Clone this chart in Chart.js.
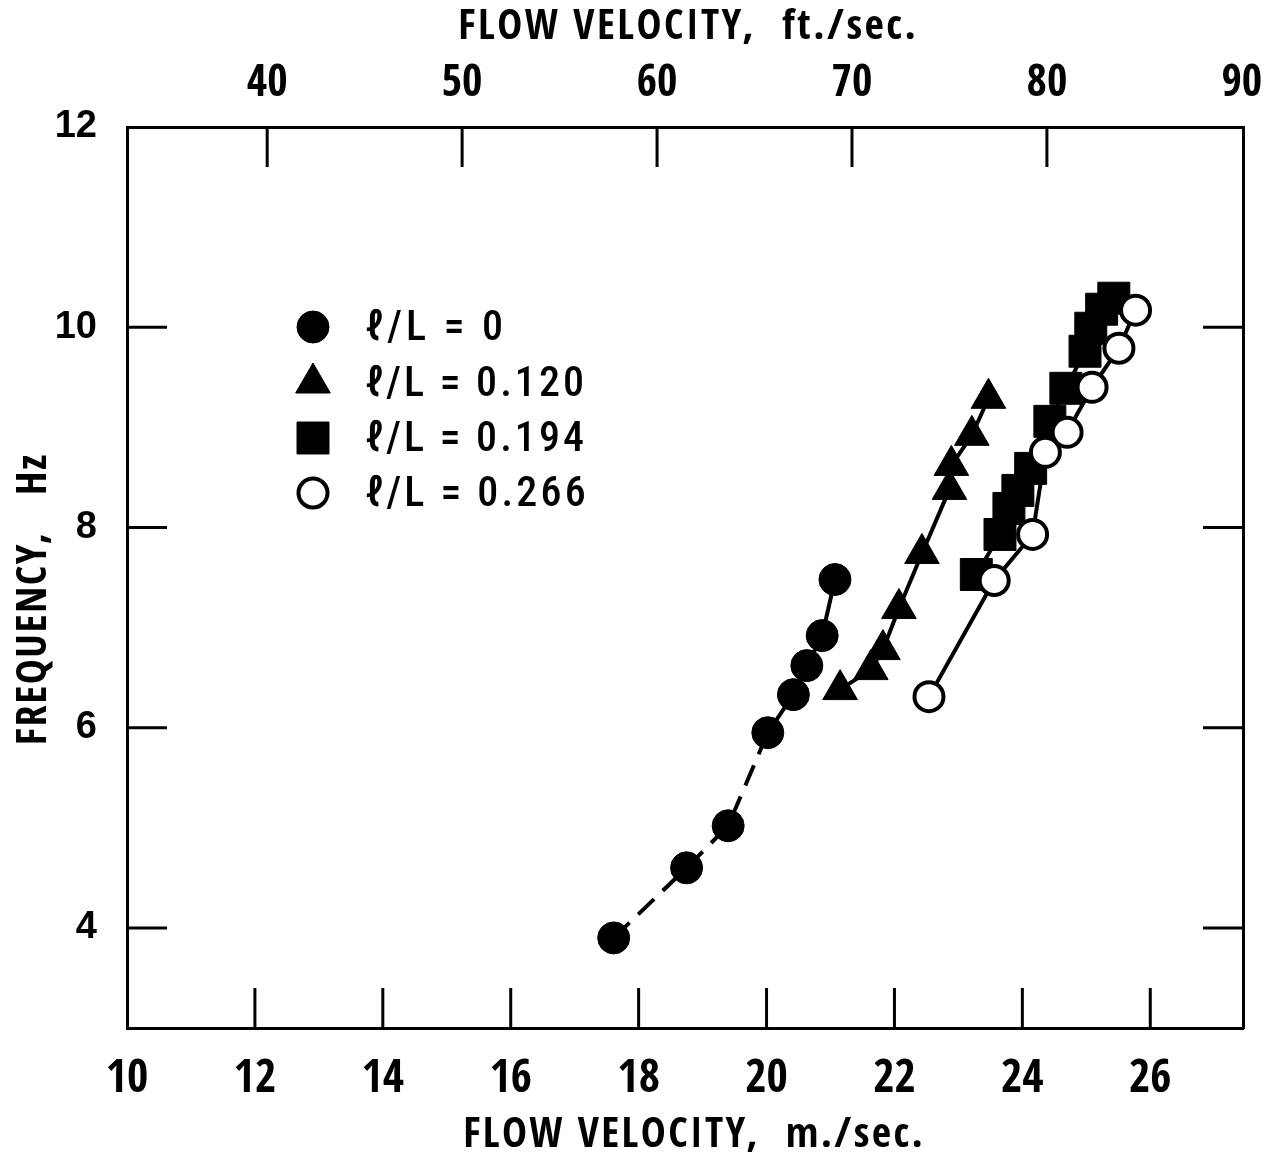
<!DOCTYPE html>
<html>
<head>
<meta charset="utf-8">
<script src="https://cdn.jsdelivr.net/npm/chart.js@4.4.1/dist/chart.umd.min.js"></script>
<style>
  html, body { margin: 0; padding: 0; background: #fff; }
  canvas { display: block; }
</style>
</head>
<body>
<canvas id="chart" width="1272" height="1160"></canvas>
<script>
// Axis ticks
const velocityTicksMs = [10, 12, 14, 16, 18, 20, 22, 24, 26];
const velocityTicksFt = [40, 50, 60, 70, 80, 90];
const frequencyTicks = [4, 6, 8, 10, 12];
const M_PER_FT = 0.3048;

// l/L = 0 (filled circles; dashed below 20 m/sec)
const velocity0 = [17.61, 18.75, 19.40, 20.02, 20.42, 20.63, 20.87, 21.07];
const frequency0 = [3.90, 4.60, 5.02, 5.95, 6.33, 6.62, 6.92, 7.48];

// l/L = 0.120 (filled triangles)
const velocity1 = [21.15, 21.63, 21.82, 22.07, 22.43, 22.86, 22.89, 23.21, 23.47];
const frequency1 = [6.38, 6.58, 6.78, 7.19, 7.74, 8.38, 8.62, 8.92, 9.29];

// l/L = 0.194 (filled squares)
const velocity2 = [23.28, 23.65, 23.79, 23.93, 24.13, 24.43, 24.68, 24.98, 25.07, 25.24, 25.43];
const frequency2 = [7.53, 7.93, 8.19, 8.37, 8.59, 9.06, 9.39, 9.76, 9.99, 10.18, 10.29];

// l/L = 0.266 (open circles)
const velocity3 = [22.54, 23.56, 24.16, 24.36, 24.70, 25.09, 25.51, 25.77];
const frequency3 = [6.31, 7.47, 7.93, 8.75, 8.95, 9.40, 9.79, 10.17];

const seriesLabels = ['\u2113/L = 0', '\u2113/L = 0.120', '\u2113/L = 0.194', '\u2113/L = 0.266'];

const toPoints = (xs, ys) => xs.map((x, i) => ({ x: x, y: ys[i] }));

const NARROW = "'Open Sans Condensed', 'Roboto Condensed', 'DejaVu Sans Condensed', sans-serif";
const KEYFONT = "'Roboto Condensed', 'DejaVu Sans Condensed', sans-serif";
const BLOCK = "'Liberation Sans', Arial, sans-serif";
const INK = '#000';

const baseSet = {
  showLine: true,
  borderColor: INK,
  borderWidth: 4,
  pointBorderColor: INK,
  pointBackgroundColor: INK,
  pointHoverRadius: 0
};

const datasets = [
  Object.assign({}, baseSet, {
    label: seriesLabels[3],
    data: toPoints(velocity3, frequency3),
    pointStyle: 'circle',
    pointRadius: 14.5,
    pointBorderWidth: 4,
    pointBackgroundColor: '#fff',
    order: 0
  }),
  Object.assign({}, baseSet, {
    label: seriesLabels[2],
    data: toPoints(velocity2, frequency2),
    pointStyle: 'rect',
    pointRadius: 22.6,
    pointBorderWidth: 1,
    order: 1
  }),
  Object.assign({}, baseSet, {
    label: seriesLabels[1],
    data: toPoints(velocity1, frequency1),
    pointStyle: 'triangle',
    pointRadius: 20,
    pointBorderWidth: 1,
    order: 2
  }),
  Object.assign({}, baseSet, {
    label: seriesLabels[0],
    data: toPoints(velocity0, frequency0),
    pointStyle: 'circle',
    pointRadius: 16,
    pointBorderWidth: 1,
    order: 3,
    segment: {
      borderDash: ctx => (ctx.p0DataIndex < 3 ? [22, 12] : undefined)
    }
  })
];

// Tick marks pointing into the plot from every side
const innerTicks = {
  id: 'innerTicks',
  beforeDatasetsDraw(chart) {
    const { ctx, chartArea: a, scales } = chart;
    const len = 40;
    ctx.save();
    ctx.strokeStyle = INK;
    ctx.lineWidth = 3;
    ctx.beginPath();
    velocityTicksMs.forEach(v => {
      const px = scales.x.getPixelForValue(v);
      if (px - a.left > 5 && a.right - px > 5) {
        ctx.moveTo(px, a.bottom); ctx.lineTo(px, a.bottom - len);
      }
    });
    velocityTicksFt.forEach(v => {
      const px = scales.x2.getPixelForValue(v);
      if (px - a.left > 5 && a.right - px > 5) {
        ctx.moveTo(px, a.top); ctx.lineTo(px, a.top + len);
      }
    });
    frequencyTicks.forEach(v => {
      const py = scales.y.getPixelForValue(v);
      if (py - a.top > 5 && a.bottom - py > 5) {
        ctx.moveTo(a.left, py); ctx.lineTo(a.left + len, py);
        ctx.moveTo(a.right, py); ctx.lineTo(a.right - len, py);
      }
    });
    ctx.stroke();
    ctx.restore();
  }
};

// Letter-spaced text stretched to a given width
function spacedText(ctx, text, x, y, width) {
  if ('letterSpacing' in ctx) {
    ctx.letterSpacing = '0px';
    const w = ctx.measureText(text).width;
    const n = Array.from(text).length;
    const sp = Math.max(0, (width - w) / n);
    ctx.letterSpacing = sp.toFixed(2) + 'px';
    ctx.fillText(text, x + (ctx.textAlign === 'center' ? sp / 2 : 0), y);
    ctx.letterSpacing = '0px';
  } else {
    ctx.fillText(text, x, y);
  }
}

// Axis titles and the in-plot key
const annotations = {
  id: 'annotations',
  afterDraw(chart) {
    const { ctx, chartArea: a } = chart;
    ctx.save();
    ctx.fillStyle = INK;
    ctx.textAlign = 'center';
    ctx.textBaseline = 'middle';
    ctx.font = 'bold 42px ' + NARROW;
    spacedText(ctx, 'FLOW VELOCITY,  ft./sec.', 687, 28, 460);
    spacedText(ctx, 'FLOW VELOCITY,  m./sec.', 693, 1136, 462);
    ctx.save();
    ctx.translate(35, 600);
    ctx.rotate(-Math.PI / 2);
    spacedText(ctx, 'FREQUENCY,   Hz', 0, 0, 292);
    ctx.restore();

    // key
    const styles = [
      { pointStyle: 'circle', radius: 16, fill: INK, bw: 1 },
      { pointStyle: 'triangle', radius: 20, fill: INK, bw: 1 },
      { pointStyle: 'rect', radius: 22.6, fill: INK, bw: 1 },
      { pointStyle: 'circle', radius: 14.5, fill: '#fff', bw: 4 }
    ];
    const widths = [142, 222, 222, 224];
    const kx = a.left + 186;
    const ky = [a.top + 200, a.top + 256, a.top + 311, a.top + 366];
    ctx.textAlign = 'left';
    ctx.font = '500 42px ' + KEYFONT;
    styles.forEach((s, i) => {
      ctx.fillStyle = s.fill;
      ctx.strokeStyle = INK;
      ctx.lineWidth = s.bw;
      Chart.helpers.drawPoint(ctx, { pointStyle: s.pointStyle, radius: s.radius, rotation: 0, borderWidth: s.bw }, kx, ky[i]);
      ctx.fillStyle = INK;
      spacedText(ctx, seriesLabels[i], a.left + 238, ky[i] + 2, widths[i]);
    });
    ctx.restore();
  }
};

const noEdgePadding = s => { s.paddingLeft = 0; s.paddingRight = 0; s.paddingTop = 0; s.paddingBottom = 0; };

new Chart(document.getElementById('chart'), {
  type: 'scatter',
  data: { datasets: datasets },
  plugins: [innerTicks, annotations],
  options: {
    responsive: false,
    devicePixelRatio: 1,
    animation: false,
    events: [],
    layout: { padding: 0 },
    plugins: { legend: { display: false }, tooltip: { enabled: false } },
    scales: {
      x: {
        type: 'linear',
        position: 'bottom',
        min: 10,
        max: 27.45,
        afterBuildTicks: s => { s.ticks = velocityTicksMs.map(v => ({ value: v })); },
        afterFit: s => { s.height = 132; noEdgePadding(s); },
        grid: { display: false, drawTicks: false },
        border: { display: true, color: INK, width: 3 },
        ticks: { color: INK, font: { family: NARROW, size: 46, weight: 'bold', lineHeight: 1.2 }, padding: 24, maxRotation: 0, autoSkip: false }
      },
      x2: {
        type: 'linear',
        position: 'top',
        min: 10 / M_PER_FT,
        max: 27.45 / M_PER_FT,
        afterBuildTicks: s => { s.ticks = velocityTicksFt.map(v => ({ value: v })); },
        afterFit: s => { s.height = 127; noEdgePadding(s); },
        grid: { display: false, drawTicks: false },
        border: { display: true, color: INK, width: 3 },
        ticks: { color: INK, font: { family: NARROW, size: 44, weight: 'bold', lineHeight: 1.2 }, padding: 16, maxRotation: 0, autoSkip: false }
      },
      y: {
        type: 'linear',
        position: 'left',
        min: 3,
        max: 12,
        afterBuildTicks: s => { s.ticks = frequencyTicks.map(v => ({ value: v })); },
        afterFit: s => { s.width = 127; noEdgePadding(s); },
        grid: { display: false, drawTicks: false },
        border: { display: true, color: INK, width: 3 },
        ticks: { color: INK, font: { family: BLOCK, size: 38, weight: 'bold' }, padding: 30 }
      },
      yR: {
        type: 'linear',
        position: 'right',
        min: 3,
        max: 12,
        afterFit: s => { s.width = 29; noEdgePadding(s); },
        grid: { display: false, drawTicks: false },
        border: { display: true, color: INK, width: 3 },
        ticks: { display: false }
      }
    }
  }
});
</script>
</body>
</html>
